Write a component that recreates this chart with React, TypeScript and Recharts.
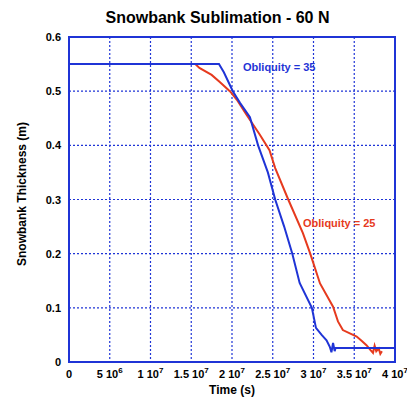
import React from 'react';
import { LineChart, Line, XAxis, YAxis, CartesianGrid, ReferenceArea } from 'recharts';

const BLUE = '#1f34d6';
const RED = '#e63a1e';

// time in units of 1e7 s
const blueT = [0, 1.84, 1.9, 2.01, 2.1, 2.22, 2.32, 2.44, 2.53, 2.64, 2.74, 2.83, 2.98, 3.03, 3.1, 3.16, 3.2, 3.22, 3.24, 3.26, 3.27, 4.0];
const blueV = [0.55, 0.55, 0.535, 0.5, 0.478, 0.452, 0.4, 0.35, 0.3, 0.25, 0.2, 0.146, 0.1, 0.063, 0.05, 0.04, 0.028, 0.018, 0.035, 0.02, 0.026, 0.026];

const redT = [0, 1.55, 1.6, 1.75, 1.85, 1.98, 2.06, 2.18, 2.34, 2.46, 2.53, 2.69, 2.87, 2.96, 3.08, 3.24, 3.3, 3.36, 3.53, 3.6, 3.65, 3.7, 3.73, 3.75, 3.77, 3.8, 3.82, 3.84];
const redV = [0.55, 0.55, 0.543, 0.53, 0.517, 0.499, 0.484, 0.456, 0.42, 0.391, 0.358, 0.3, 0.238, 0.2, 0.145, 0.102, 0.075, 0.059, 0.047, 0.038, 0.031, 0.022, 0.017, 0.03, 0.02, 0.025, 0.015, 0.02];

const xTicks = [0, 0.5e7, 1e7, 1.5e7, 2e7, 2.5e7, 3e7, 3.5e7, 4e7];
const xTickBase = ['0', '5 10', '1 10', '1.5 10', '2 10', '2.5 10', '3 10', '3.5 10', '4 10'];
const xTickExp = ['', '6', '7', '7', '7', '7', '7', '7', '7'];
const yTicks = [0, 0.1, 0.2, 0.3, 0.4, 0.5, 0.6];
const yTickLabels = ['0', '0.1', '0.2', '0.3', '0.4', '0.5', '0.6'];

const blueData = blueT.map((t, i) => ({ t: t * 1e7, v: blueV[i] }));
const redData = redT.map((t, i) => ({ t: t * 1e7, v: redV[i] }));

const FONT = '"Liberation Sans", Arial, Helvetica, sans-serif';

const XTick = (props: any) => {
  const { x, y, payload } = props;
  const i = xTicks.indexOf(payload.value);
  return (
    <text x={x} y={y + 16} textAnchor="middle" fontFamily={FONT} fontWeight="bold" fontSize={11} fill="#000">
      <tspan>{xTickBase[i]}</tspan>
      {xTickExp[i] ? <tspan dy={-5} fontSize={8}>{xTickExp[i]}</tspan> : null}
    </text>
  );
};

const YTick = (props: any) => {
  const { x, y, payload } = props;
  const i = yTicks.indexOf(payload.value);
  return (
    <text x={x - 8} y={y + 4} textAnchor="end" fontFamily={FONT} fontWeight="bold" fontSize={11} fill="#000">
      {yTickLabels[i]}
    </text>
  );
};

const textStyle: React.CSSProperties = {
  position: 'absolute',
  fontFamily: FONT,
  fontWeight: 'bold',
  whiteSpace: 'nowrap',
  lineHeight: 1,
};

export default function App() {
  return (
    <div style={{ position: 'absolute', left: 0, top: 0, width: 407, height: 397, background: '#fff', overflow: 'hidden' }}>
      <LineChart width={407} height={397} margin={{ top: 37, right: 12, bottom: 0, left: 0 }}>
        <CartesianGrid stroke={BLUE} strokeDasharray="2 2" strokeWidth={1.2} />
        <XAxis
          type="number"
          dataKey="t"
          domain={[0, 4e7]}
          ticks={xTicks}
          interval={0}
          height={35}
          tickSize={0}
          tickMargin={0}
          axisLine={false}
          tick={<XTick />}
          allowDataOverflow
        />
        <YAxis
          type="number"
          dataKey="v"
          domain={[0, 0.6]}
          ticks={yTicks}
          interval={0}
          width={69}
          tickSize={0}
          tickMargin={0}
          axisLine={false}
          tick={<YTick />}
          allowDataOverflow
        />
        <ReferenceArea x1={0} x2={4e7} y1={0} y2={0.6} fill="none" stroke={BLUE} strokeWidth={2} fillOpacity={0} />
        <Line data={redData} dataKey="v" type="linear" stroke={RED} strokeWidth={2} dot={false} isAnimationActive={false} />
        <Line data={blueData} dataKey="v" type="linear" stroke={BLUE} strokeWidth={2} dot={false} isAnimationActive={false} />
      </LineChart>
      <div style={{ ...textStyle, left: 0, width: 407, top: 10, fontSize: 16, textAlign: 'center', paddingLeft: 14 }}>Snowbank Sublimation - 60 N</div>
      <div style={{ ...textStyle, left: 232, top: 384, fontSize: 12, width: 0, display: 'flex', justifyContent: 'center' }}>Time (s)</div>
      <div style={{ ...textStyle, left: 22, top: 194, fontSize: 12, width: 0, height: 0, display: 'flex', justifyContent: 'center', alignItems: 'center', transform: 'rotate(-90deg)' }}>Snowbank Thickness (m)</div>
      <div style={{ ...textStyle, left: 243, top: 62, fontSize: 11, color: BLUE }}>Obliquity = 35</div>
      <div style={{ ...textStyle, left: 303, top: 218, fontSize: 11, color: RED }}>Obliquity = 25</div>
    </div>
  );
}
